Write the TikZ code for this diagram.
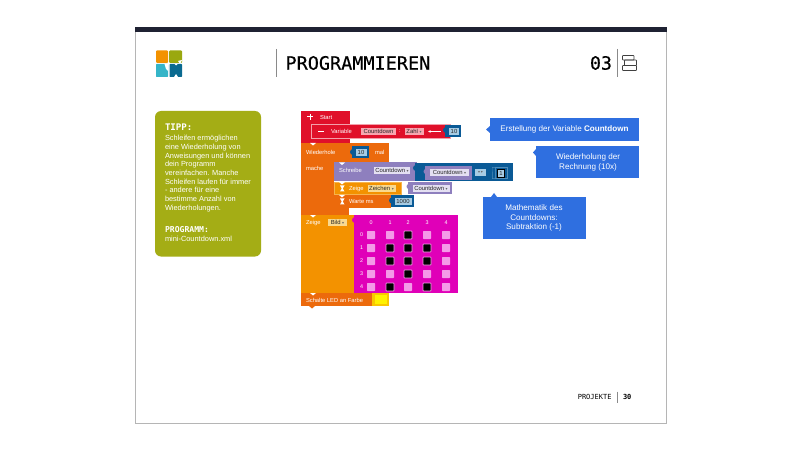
\documentclass[tikz,border=0pt]{standalone}
\usepackage{fontspec}
\usetikzlibrary{arrows.meta}
\setmainfont{Liberation Sans}
\newfontfamily\monof[FakeBold=0.35]{DejaVu Sans Mono}
\newfontfamily\monor{DejaVu Sans Mono}
\newfontfamily\symf{DejaVu Sans}
\newcommand{\dnar}{{\symf\fontsize{4}{5}\selectfont\color{black!60}▾}}
\definecolor{bar}{HTML}{1F2233}
\definecolor{pageln}{HTML}{B5B5B5}
\definecolor{divln}{HTML}{8A8A8A}
\definecolor{tip}{HTML}{A4AD15}
\definecolor{call}{HTML}{2F6FE0}
\definecolor{bred}{HTML}{E0102A}
\definecolor{bor}{HTML}{EC6A0C}
\definecolor{bor2}{HTML}{F39200}
\definecolor{bpur}{HTML}{8E7FBE}
\definecolor{bblue}{HTML}{0A5A96}
\definecolor{bmag}{HTML}{E000B8}
\definecolor{lpink}{HTML}{F49AE8}
\definecolor{lblue}{HTML}{A8CCE4}
\definecolor{lpur}{HTML}{E4E0F2}
\definecolor{fpink}{HTML}{F7A6B0}
\definecolor{fyel}{HTML}{F9D98F}
\definecolor{logoG}{HTML}{9AA80F}
\definecolor{logoT}{HTML}{35B5C8}
\definecolor{logoB}{HTML}{0A6A90}
\tikzset{
  x=1pt,y=-1pt,
  pad/.style={inner sep=0pt,outer sep=0pt},
  bt/.style={pad,text=white,font=\fontsize{5.8}{6}\selectfont,anchor=base west},
  field/.style={pad,fill=#1,text=black!85,font=\fontsize{5.9}{6}\selectfont,minimum height=7.5pt},
  calltext/.style={pad,text=white,align=center,font=\fontsize{8.1}{9.6}\selectfont},
  tiptext/.style={pad,anchor=base west,text=white,font=\fontsize{7.4}{8}\selectfont},
  tiphead/.style={pad,anchor=base west,text=white,font=\monor\bfseries\fontsize{#1}{9}\selectfont},
  cell/.style={rounded corners=0.6pt,fill=lpink},
  cellon/.style={rounded corners=0.6pt,fill=black,draw=lpink,line width=0.6pt},
  gridlab/.style={pad,text=white,font=\fontsize{5.4}{6}\selectfont},
  notch/.style={fill=white}
}
\begin{document}
\begin{tikzpicture}
\useasboundingbox (0,0) rectangle (800,449);
\fill[white] (0,0) rectangle (800,449);
% page
\draw[pageln,line width=0.8pt,fill=white] (135,27) rectangle (666.5,423);
\fill[bar] (135,27) rectangle (666.5,32.3);
% logo
\fill[bor2,rounded corners=1pt] (156,50.5) rectangle (168,63);
\fill[logoG,rounded corners=1pt] (169,50.5) rectangle (182,63);
\fill[white] (178,61) -- (182,60) -- (180,64) -- cycle;
\fill[logoT,rounded corners=0.6pt] (156,64) rectangle (168,77);
\fill[white] (164.5,64) -- (168,64) -- (168,71) -- (166,69) -- cycle;
\fill[logoB,rounded corners=0.6pt] (169.5,64) rectangle (182,77);
\fill[white] (174.5,64) -- (176,65.5) -- (177.5,64) -- cycle;
\fill[white] (174,77) -- (176,74) -- (178,77) -- cycle;
% header
\draw[divln,line width=1pt] (276,49) -- (276,77);
\node[pad,anchor=west,font=\monof\fontsize{18.5}{20}\selectfont,text=black] (title) at (285.5,63) {PROGRAMMIEREN};
\node[pad,anchor=east,font=\monof\fontsize{18.3}{20}\selectfont,text=black] (chap) at (612,63) {03};
\draw[divln,line width=0.8pt] (617.5,49) -- (617.5,77);
\begin{scope}[line width=0.8pt,draw=black!75]
\draw[rounded corners=0.6pt] (622.5,55.5) rectangle (634,60);
\draw[rounded corners=0.6pt] (624.5,60) rectangle (636.5,65.5);
\draw[rounded corners=0.6pt] (622.5,65.5) rectangle (636.5,70.5);
\end{scope}
% tip box
\fill[tip,rounded corners=6pt] (155,111) rectangle (261,256.5);
\node[tiphead=9.1] (tipp) at (165,131) {TIPP:};
\node[tiptext] (t1) at (165,141) {Schleifen ermöglichen};
\node[tiptext] (t2) at (165,149.7) {eine Wiederholung von};
\node[tiptext] (t3) at (165,158.3) {Anweisungen und können};
\node[tiptext] (t4) at (165,167) {dein Programm};
\node[tiptext] (t5) at (165,175.6) {vereinfachen. Manche};
\node[tiptext] (t6) at (165,184.2) {Schleifen laufen für immer};
\node[tiptext] (t7) at (165,192.9) {- andere für eine};
\node[tiptext] (t8) at (165,201.5) {bestimme Anzahl von};
\node[tiptext] (t9) at (165,210.2) {Wiederholungen.};
\node[tiphead=8.1] (prog) at (165,232) {PROGRAMM:};
\node[tiptext] (t10) at (165,241) {mini-Countdown.xml};
% --- blocks ---
% start
\fill[bred] (301,111) rectangle (350,143);
\draw[white,line width=1pt] (307,117) -- (313,117) (310,114) -- (310,120);
\node[bt] (start) at (320,119.5) {Start};
\fill[bred,draw=white!60!bred,line width=0.5pt] (311,124) rectangle (450,138);
\draw[white,line width=1pt] (318,131.5) -- (324,131.5);
\node[bt] (var) at (331,133.5) {Variable};
\node[field=fpink] (vname) at (378.5,131.5) {\makebox[35pt]{Countdown}};
\node[pad,text=white,font=\fontsize{5.6}{6}\selectfont] (colon) at (400,131.5) {:};
\node[field=fpink] (vtype) at (414,131.5) {\makebox[19pt]{Zahl \dnar}};
\coordinate (arrend) at (428,131.5);
\coordinate (arrstart) at (441,131.5);
\draw[white,line width=0.6pt,-{Latex[length=2.5pt,width=2.5pt]}] (arrstart) -- (arrend);
\fill[bblue] (445,125) rectangle (461,137.5);
\fill[bblue] (446,127) arc[start angle=90,end angle=270,radius=3pt] -- cycle;
\node[field=lblue] (v10) at (454,131.5) {\makebox[10pt]{10}};
% wiederhole
\fill[bor] (301,143) rectangle (389,162.5);
\fill[bor] (301,143) rectangle (334,215);
\fill[bor] (334,208) rectangle (349,215);
\node[bt] (wied) at (306,155) {Wiederhole};
\fill[bblue] (352,146.5) rectangle (369,158);
\fill[bblue] (353,149) arc[start angle=90,end angle=270,radius=3pt] -- cycle;
\node[field=lblue] (w10) at (361,152.5) {\makebox[11pt]{10}};
\node[bt] (mal) at (375,155) {mal};
\node[bt] (mache) at (306,171) {mache};
% schreibe
\fill[bpur] (334,162.5) rectangle (417,181);
\node[bt] (schr) at (339,172.5) {Schreibe};
\node[field=lpur] (sname) at (392,170.5) {\makebox[36pt]{Countdown \dnar}};
\fill[bblue] (415,163) rectangle (513,181.5);
\fill[bblue] (416,165) arc[start angle=90,end angle=270,radius=3pt] -- cycle;
\fill[bpur] (425,166) rectangle (472,180);
\fill[bpur] (426,169) arc[start angle=90,end angle=270,radius=2.5pt] -- cycle;
\node[field=lpur] (mname) at (449.5,172.5) {\makebox[39pt]{Countdown \dnar}};
\node[field=lblue] (mop) at (480.5,172.5) {\makebox[11pt]{\dnar\,\dnar}};
\fill[lblue!45!bblue] (492,167) rectangle (507.5,179);
\fill[bblue] (492,167.7) arc[start angle=90,end angle=270,radius=2pt] (492.6,167.7) rectangle (495,178.3);
\fill[bblue] (495.5,167.7) rectangle (506.8,178.3);
\node[field=lblue,draw=black,line width=0.3pt,minimum height=8pt] (m1) at (501,173) {\makebox[7pt]{1}};
% zeige zeichen
\fill[bor2,draw=bor2!70!white,line width=0.3pt] (334,182) rectangle (401,194.5);
\fill[white] (340,185.5) -- (344.5,185.5) -- (342.8,188.5) -- (344.5,191.5) -- (340,191.5) -- (341.7,188.5) -- cycle;
\node[bt] (zz) at (349,190.5) {Zeige};
\node[field=fyel] (zname) at (381.5,188.5) {\makebox[28pt]{Zeichen \dnar}};
\fill[bpur] (408,182) rectangle (452,194.5);
\fill[bpur] (409,184) arc[start angle=90,end angle=270,radius=2.5pt] -- cycle;
\node[field=lpur] (zcnt) at (431,188.5) {\makebox[37pt]{Countdown \dnar}};
% warte
\fill[bor] (334,195) rectangle (391,208);
\fill[white] (340,198.5) -- (344.5,198.5) -- (342.8,201.5) -- (344.5,204.5) -- (340,204.5) -- (341.7,201.5) -- cycle;
\node[bt] (warte) at (349,203.5) {Warte ms};
\fill[bblue] (391,195) rectangle (414,207.5);
\fill[bblue] (392,197.5) arc[start angle=90,end angle=270,radius=3pt] -- cycle;
\node[field=lblue] (ms) at (403,201.5) {\makebox[17pt]{1000}};
% zeige bild
\fill[bor2] (301,215) rectangle (355,293);
\node[bt] (zb) at (306,224.5) {Zeige};
\node[field=fyel] (bild) at (337.5,222.5) {\makebox[19pt]{Bild \dnar}};
\fill[bmag] (354,215) rectangle (458,293);
\fill[bmag] (355,217) arc[start angle=90,end angle=270,radius=3pt] -- cycle;
\foreach \c/\x in {0/371,1/390,2/408,3/427,4/446}{
  \node[gridlab] (colh\c) at (\x,223) {\c};
}
\foreach \r/\y in {0/235,1/248,2/261,3/274,4/287}{
  \node[gridlab] (rowh\r) at (361.5,\y) {\r};
  \foreach \x in {371,390,408,427,446}{
    \fill[cell] (\x-4,\y-4) rectangle (\x+4,\y+4);
  }
}
\foreach \x/\y in {408/235,390/248,408/248,427/248,390/261,408/261,427/261,408/274,390/287,427/287}{
  \draw[cellon] (\x-4,\y-4) rectangle (\x+4,\y+4);
}
% LED
\fill[bor] (301,293) rectangle (372,306);
\node[bt] (led) at (306,302.5) {Schalte LED an Farbe};
\fill[bor2!50!yellow] (372,293) rectangle (389,306);
\fill[yellow] (375,295) rectangle (387,304);
% notches
\foreach \x/\y in {339/162.5,339/182,339/195}{
  \fill[notch] (\x,\y) -- (\x+6,\y) -- (\x+3,\y+2.5) -- cycle;
}
\fill[notch] (310,143) -- (316,143) -- (313,145.5) -- cycle;
\fill[notch] (310,215) -- (316,215) -- (313,217.5) -- cycle;
\fill[notch] (310,293) -- (316,293) -- (313,295.5) -- cycle;
\fill[bor] (309,306) -- (315,306) -- (312,308.5) -- cycle;
% callouts
\fill[call] (490,118) rectangle (639,141);
\fill[call] (490,126) -- (486,129.5) -- (490,133) -- cycle;
\node[calltext] (c1) at (564.5,129.5) {Erstellung der Variable \textbf{Countdown}};
\fill[call] (536,146) rectangle (639,178.5);
\fill[call] (536,149) -- (533,152.5) -- (536,156) -- cycle;
\node[calltext] (c2) at (588,162.5) {Wiederholung der\\Rechnung (10x)};
\fill[call] (483,197) rectangle (585.5,239);
\fill[call] (491,197) -- (494,193) -- (497,197) -- cycle;
\node[calltext] (c3) at (534,218) {Mathematik des\\Countdowns:\\Subtraktion (-1)};
% footer
\node[pad,anchor=east,font=\monor\fontsize{7}{8}\selectfont,text=black] (proj) at (611.5,397) {PROJEKTE};
\draw[divln,line width=0.6pt] (617,391.5) -- (617,402.5);
\node[pad,anchor=west,font=\monor\bfseries\fontsize{7}{8}\selectfont,text=black] (pg) at (623,397) {30};
\end{tikzpicture}
\end{document}
